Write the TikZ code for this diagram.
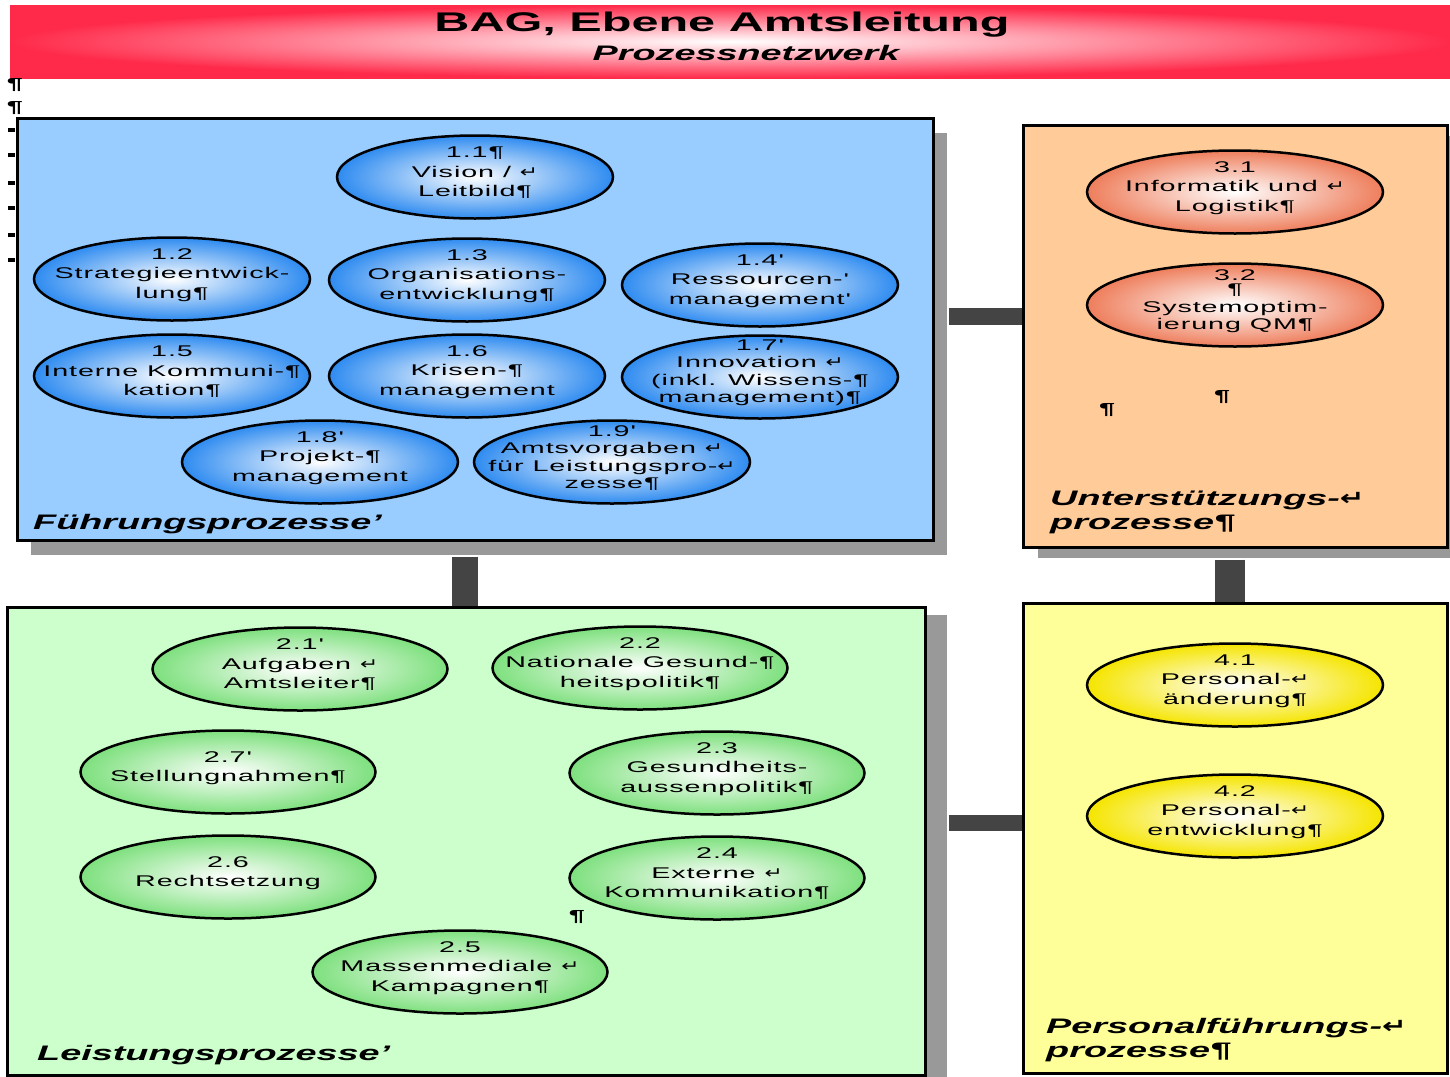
\documentclass[tikz,border=0pt]{standalone}
\usepackage{fontspec}
\setmainfont{Liberation Sans}[FakeStretch=1.8]
\newfontfamily\elfont{Liberation Sans}[FakeStretch=1.85,LetterSpace=6]
\newfontfamily\symf{DejaVu Sans}[FakeStretch=1.4]
\usetikzlibrary{shapes.geometric,shadows}
\newcommand\rt{{\symf\char"21B5}}
\definecolor{fpblue}{HTML}{99CCFF}
\definecolor{upor}{HTML}{FFCC99}
\definecolor{pfyel}{HTML}{FFFF99}
\definecolor{lpgr}{HTML}{CCFFCC}
\definecolor{elblue}{HTML}{2E8BF0}
\definecolor{elor}{HTML}{EE7E5C}
\definecolor{elyel}{HTML}{F5E500}
\definecolor{elgr}{HTML}{7EE07E}
\definecolor{bannerred}{HTML}{FF2A4A}
\definecolor{shadowg}{HTML}{999999}
\definecolor{barg}{HTML}{444444}
\tikzset{
  box/.style={draw=black, line width=3pt, inner sep=0pt},
  shad/.style 2 args={drop shadow={opacity=1, fill=shadowg, shadow xshift=#1, shadow yshift=#2}},
  el/.style={ellipse, draw=black, line width=2.5pt, minimum width=276pt, minimum height=83pt,
    inner sep=0pt, inner color=white},
  eltext/.style={align=center, inner sep=0pt, yshift=4pt, font=\elfont\fontsize{15.5}{19.5}\selectfont},
  eltight/.style={font=\elfont\fontsize{15.5}{17.5}\selectfont},
  elB/.style={el, outer color=elblue},
  elO/.style={el, outer color=elor, minimum width=296pt},
  elY/.style={el, outer color=elyel, minimum width=296pt},
  elG/.style={el, outer color=elgr, minimum width=295pt},
  bar/.style={draw=barg},
  boxlabel/.style={anchor=west, align=left, inner sep=0pt, font=\fontsize{21}{24}\selectfont\bfseries\itshape},
  pil/.style={inner sep=0pt, font=\fontsize{16}{16}\selectfont\bfseries},
}
% #1 style, #2 name, #3 position, #4 text
\newcommand\elnode[5][]{\node[#2] (#3) at (#4) {}; \node[eltext,#1] (#3t) at (#3) {#5};}
\begin{document}
\begin{tikzpicture}[x=1pt,y=-1pt]
\useasboundingbox (0,0) rectangle (1450,1076);
\fill[white] (0,0) rectangle (1450,1076);
% banner
\node[draw=none, minimum width=1440pt, minimum height=73pt, inner sep=0pt, inner color=white, outer color=bannerred] (ban) at (730,41.5) {};
\node (title) at (722,25) {\fontsize{27}{30}\selectfont\bfseries BAG, Ebene Amtsleitung};
\node (sub) at (746,53) {\fontsize{21}{24}\selectfont\bfseries\itshape Prozessnetzwerk};
% margin marks
\node[pil] (m1) at (15,85) {¶};
\node[pil] (m2) at (15,108) {¶};
\foreach \yy in {130,155,183,208,235,260} \draw[line width=4pt] (8,\yy) -- (15,\yy);
% boxes
\node[box, fill=fpblue, minimum width=916pt, minimum height=422pt, shad={14pt}{-15pt}] (fp) at (475,329) {};
\node[box, fill=upor, minimum width=424pt, minimum height=422pt, shad={15pt}{-11pt}] (up) at (1235,336) {};
\node[box, fill=pfyel, minimum width=424pt, minimum height=470pt] (pf) at (1235,838) {};
\node[box, fill=lpgr, minimum width=918pt, minimum height=468pt, shad={22pt}{-8pt}] (lp) at (466,841) {};
% connectors
\draw[bar, line width=26pt] ([xshift=-10pt, yshift=-15pt]fp.south) -- ([xshift=-10pt]fp.south |- lp.north);
\draw[bar, line width=17pt] ([xshift=14pt, yshift=13pt]fp.east) -- ([yshift=13pt]fp.east -| up.west);
\draw[bar, line width=30pt] ([xshift=-5pt, yshift=-11pt]up.south) -- ([xshift=-5pt]up.south |- pf.north);
\draw[bar, line width=16pt] ([xshift=22pt, yshift=18pt]lp.east) -- ([yshift=18pt]lp.east -| pf.west);
% Fuehrungsprozesse
\elnode{elB}{e11}{475,177}{1.1¶\\Vision /~\rt\\Leitbild¶}
\elnode{elB}{e12}{172,279}{1.2\\Strategieentwick-\\lung¶}
\elnode{elB}{e13}{467,280}{1.3\\Organisations-\\entwicklung¶}
\elnode{elB}{e14}{760,285}{1.4'\\Ressourcen-'\\management'}
\elnode{elB}{e15}{172,376}{1.5\\Interne Kommuni-¶\\kation¶}
\elnode{elB}{e16}{467,376}{1.6\\Krisen-¶\\management}
\elnode[eltight]{elB}{e17}{760,377}{1.7'\\Innovation~\rt\\(inkl. Wissens-¶\\management)¶}
\elnode{elB}{e18}{320,462}{1.8'\\Projekt-¶\\management}
\elnode[eltight]{elB}{e19}{612,462}{1.9'\\Amtsvorgaben~\rt\\für Leistungspro-\rt\\zesse¶}
\node[boxlabel] (lfp) at (33,524) {Führungsprozesse'};
% Unterstuetzungsprozesse
\elnode{elO}{e31}{1235,192}{3.1\\Informatik und~\rt\\Logistik¶}
\elnode[eltight]{elO}{e32}{1235,305}{3.2\\[-3pt]¶\\Systemoptim-\\ierung QM¶}
\node[pil] (p31) at (1107,410) {¶};
\node[pil] (p32) at (1222,397) {¶};
\node[boxlabel] (lup) at (1050,512) {Unterstützungs-\rt\\prozesse¶};
% Personalfuehrungsprozesse
\elnode{elY}{e41}{1235,685}{4.1\\Personal-\rt\\änderung¶}
\elnode{elY}{e42}{1235,816}{4.2\\Personal-\rt\\entwicklung¶}
\node[boxlabel] (lpf) at (1046,1040) {Personalführungs-\rt\\prozesse¶};
% Leistungsprozesse
\elnode{elG}{e21}{300,669}{2.1'\\Aufgaben~\rt\\Amtsleiter¶}
\elnode{elG}{e22}{640,668}{2.2\\Nationale Gesund-¶\\heitspolitik¶}
\elnode{elG}{e27}{228,772}{2.7'\\Stellungnahmen¶}
\elnode{elG}{e23}{717,773}{2.3\\Gesundheits-\\aussenpolitik¶}
\elnode{elG}{e26}{228,877}{2.6\\Rechtsetzung}
\elnode{elG}{e24}{717,878}{2.4\\Externe~\rt\\Kommunikation¶}
\elnode{elG}{e25}{460,972}{2.5\\Massenmediale~\rt\\Kampagnen¶}
\node[pil] (p21) at (577,917) {¶};
\node[boxlabel] (llp) at (37,1055) {Leistungsprozesse'};
\end{tikzpicture}
\end{document}
